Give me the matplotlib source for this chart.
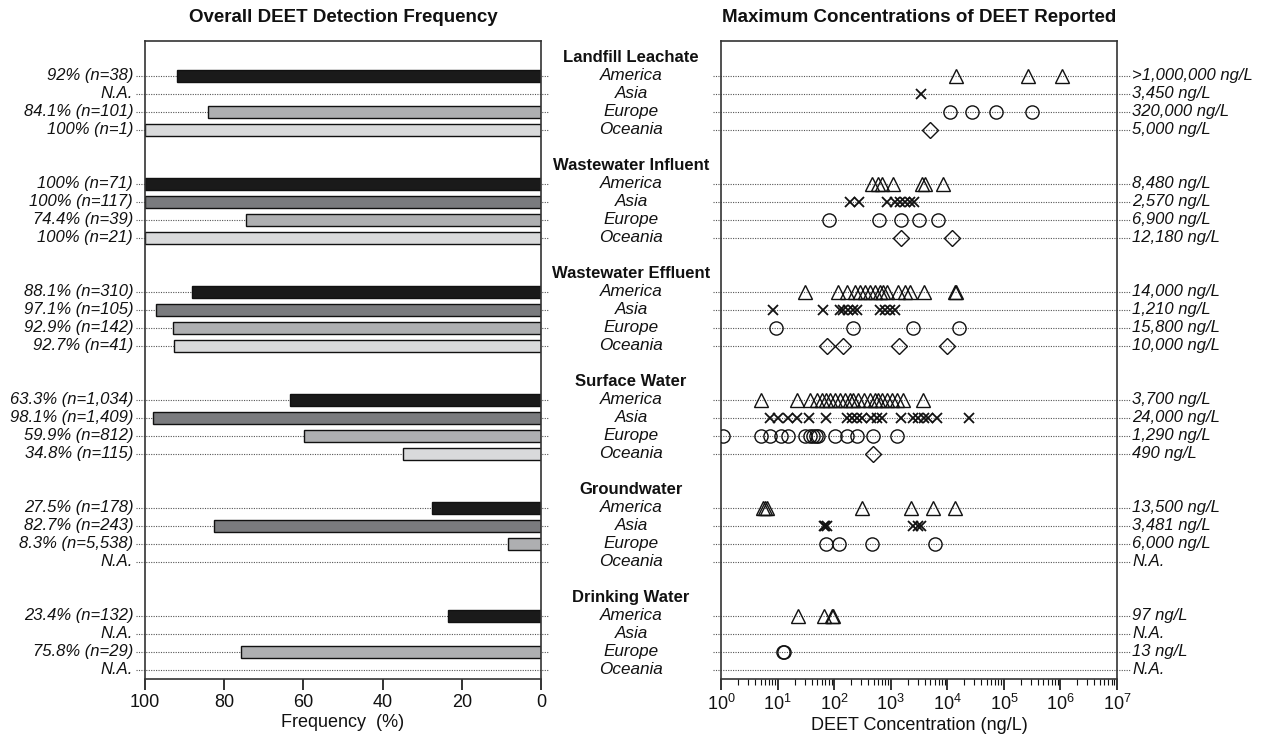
import matplotlib
matplotlib.use("Agg")
import matplotlib.pyplot as plt
import numpy as np
from matplotlib.ticker import LogLocator, FixedLocator, NullFormatter

plt.rcParams['font.family'] = ['Liberation Sans', 'DejaVu Sans']
plt.rcParams['mathtext.fontset'] = 'custom'
plt.rcParams['mathtext.rm'] = 'Liberation Sans'
plt.rcParams['mathtext.it'] = 'Liberation Sans:italic'

# ---------------- data ----------------
groups = ["Landfill Leachate", "Wastewater Influent", "Wastewater Effluent",
          "Surface Water", "Groundwater", "Drinking Water"]
regions = ["America", "Asia", "Europe", "Oceania"]

# detection frequency (%), None = N.A.
freq_landfill = [92, None, 84.1, 100]
freq_influent = [100, 100, 74.4, 100]
freq_effluent = [88.1, 97.1, 92.9, 92.7]
freq_surface = [63.3, 98.1, 59.9, 34.8]
freq_ground = [27.5, 82.7, 8.3, None]
freq_drinking = [23.4, None, 75.8, None]
frequencies = [freq_landfill, freq_influent, freq_effluent,
               freq_surface, freq_ground, freq_drinking]

freq_labels = [
    ["92% (n=38)", "N.A.", "84.1% (n=101)", "100% (n=1)"],
    ["100% (n=71)", "100% (n=117)", "74.4% (n=39)", "100% (n=21)"],
    ["88.1% (n=310)", "97.1% (n=105)", "92.9% (n=142)", "92.7% (n=41)"],
    ["63.3% (n=1,034)", "98.1% (n=1,409)", "59.9% (n=812)", "34.8% (n=115)"],
    ["27.5% (n=178)", "82.7% (n=243)", "8.3% (n=5,538)", "N.A."],
    ["23.4% (n=132)", "N.A.", "75.8% (n=29)", "N.A."],
]

max_labels = [
    [">1,000,000 ng/L", "3,450 ng/L", "320,000 ng/L", "5,000 ng/L"],
    ["8,480 ng/L", "2,570 ng/L", "6,900 ng/L", "12,180 ng/L"],
    ["14,000 ng/L", "1,210 ng/L", "15,800 ng/L", "10,000 ng/L"],
    ["3,700 ng/L", "24,000 ng/L", "1,290 ng/L", "490 ng/L"],
    ["13,500 ng/L", "3,481 ng/L", "6,000 ng/L", "N.A."],
    ["97 ng/L", "N.A.", "13 ng/L", "N.A."],
]

# maximum concentrations reported (ng/L), per group: America, Asia, Europe, Oceania
conc_landfill = [
    [14000, 270000, 1070000],
    [3450],
    [11000, 27000, 74000, 320000],
    [5000],
]
conc_influent = [
    [460, 600, 690, 1120, 3550, 4050, 8480],
    [190, 280, 850, 1200, 1450, 1780, 2190, 2570],
    [81, 620, 1510, 3160, 6900],
    [1550, 12180],
]
conc_effluent = [
    [31, 117, 166, 234, 288, 355, 427, 525, 646, 741, 851, 1350, 1780, 2190, 3800, 13800, 14000],
    [8.3, 63, 126, 145, 178, 219, 251, 646, 794, 977, 1210],
    [9.4, 213, 2500, 15800],
    [74, 141, 1420, 10000],
]
conc_surface = [
    [5, 22, 37, 49, 60, 72, 85, 105, 126, 155, 190, 219, 269, 331, 427, 525, 603, 692, 851, 1050, 1290, 1660, 3700],
    [7.4, 10, 15.5, 22, 36, 72, 166, 204, 251, 309, 457, 562, 692, 1550, 2510, 3090, 3800, 4570, 6460, 24000],
    [1.1, 5, 7.4, 11.7, 15.5, 30, 37, 43, 48, 52, 105, 166, 251, 490, 1290],
    [490],
]
conc_ground = [
    [5.6, 6.0, 6.5, 316, 2240, 5620, 13500],
    [65, 69, 74, 2510, 3090, 3481],
    [72, 124, 470, 6000],
    [],
]
conc_drinking = [
    [23, 66, 90, 97],
    [],
    [12.6, 13],
    [],
]
concentrations = [conc_landfill, conc_influent, conc_effluent,
                  conc_surface, conc_ground, conc_drinking]

freq_ticks = [100, 80, 60, 40, 20, 0]

# ---------------- styles ----------------
bar_colors = ["#1a1a1a", "#7a7b7e", "#aeafb1", "#d9dadb"]
marker_styles = [
    dict(marker='^', ms=9.5, mfc='none', mec='#111111', mew=1.0),
    dict(marker='x', ms=6.5, mec='#111111', mew=1.3),
    dict(marker='o', ms=9.5, mfc='none', mec='#111111', mew=1.0),
    dict(marker='D', ms=8.5, mfc='none', mec='#111111', mew=1.0),
]
dot_kw = dict(color='#555555', lw=0.8, linestyle=(0, (1, 1.2)), clip_on=False)
LBL = 12

W, H = 1261, 735
fig = plt.figure(figsize=(W / 100, H / 100), dpi=100)

def ax_rect(x0, x1, y0, y1):
    return [x0 / W, 1 - y1 / H, (x1 - x0) / W, (y1 - y0) / H]

ax1 = fig.add_axes(ax_rect(145, 541, 41, 679))
ax2 = fig.add_axes(ax_rect(721, 1117, 41, 679))

row_px0, row_dy = 76, 18
ylim = ((679 - row_px0) / row_dy, (41 - row_px0) / row_dy)

for ax in (ax1, ax2):
    ax.set_ylim(*ylim)
    ax.set_yticks([])
    for s in ax.spines.values():
        s.set_color('#333333')
        s.set_linewidth(1.2)

ax1.set_xlim(100, 0)
ax2.set_xscale('log')
ax2.set_xlim(1, 1e7)

t1 = ax1.get_yaxis_transform()
t2 = ax2.get_yaxis_transform()
mid = (631 - 145) / 396

for g, grp in enumerate(groups):
    base = 6 * g
    ax1.text(mid, base - 1, grp, transform=t1, ha='center',
             va='center', fontsize=12, fontweight='bold', color='#111111')
    for r, reg in enumerate(regions):
        p = base + r
        ax1.text(mid, p, reg, transform=t1, ha='center',
                 va='center', fontsize=12.3, style='italic', color='#111111')
        # left panel dotted leader + grid
        ax1.plot([-0.022, 1.02], [p, p], transform=t1, zorder=0, **dot_kw)
        ax1.text(-0.030, p, freq_labels[g][r], transform=t1, ha='right',
                 va='center', fontsize=LBL, style='italic', color='#111111')
        v = frequencies[g][r]
        if v is not None:
            ax1.barh(p, v, height=0.68, left=0, color=bar_colors[r],
                     edgecolor='#111111', linewidth=1.0, zorder=2)
        # right panel
        ax2.plot([-0.02, 1.033], [p, p], transform=t2, zorder=0, **dot_kw)
        ax2.text(1.038, p, max_labels[g][r], transform=t2, ha='left',
                 va='center', fontsize=LBL, style='italic', color='#111111')
        vals = concentrations[g][r]
        if vals:
            ax2.plot(vals, [p] * len(vals), linestyle='none', zorder=3,
                     **marker_styles[r])

# axes ticks
ax1.set_xticks(freq_ticks)
ax1.set_xticklabels([str(t) for t in freq_ticks])
ax1.tick_params(axis='x', direction='out', length=8, width=1.2, labelsize=13,
                pad=3, colors='#111111')
ax1.set_xlabel("Frequency  (%)", fontsize=13, labelpad=2, color='#111111')

ax2.xaxis.set_major_locator(FixedLocator([10.0 ** k for k in range(8)]))
ax2.set_xticklabels([r'$10^{%d}$' % k for k in range(8)])
ax2.xaxis.set_minor_locator(LogLocator(base=10, subs=np.arange(2, 10), numticks=100))
ax2.xaxis.set_minor_formatter(NullFormatter())
ax2.tick_params(axis='x', which='major', direction='out', length=8, width=1.2,
                labelsize=13, pad=3, colors='#111111')
ax2.tick_params(axis='x', which='minor', direction='out', length=4, width=0.8,
                colors='#111111')
ax2.set_xlabel("DEET Concentration (ng/L)", fontsize=13, labelpad=2, color='#111111')

fig.text(343 / W, 1 - 18 / H, "Overall DEET Detection Frequency", ha='center',
         va='center', fontsize=13.5, fontweight='bold', color='#111111')
fig.text(919 / W, 1 - 18 / H, "Maximum Concentrations of DEET Reported", ha='center',
         va='center', fontsize=13.5, fontweight='bold', color='#111111')

fig.savefig("out.png", dpi=100)
